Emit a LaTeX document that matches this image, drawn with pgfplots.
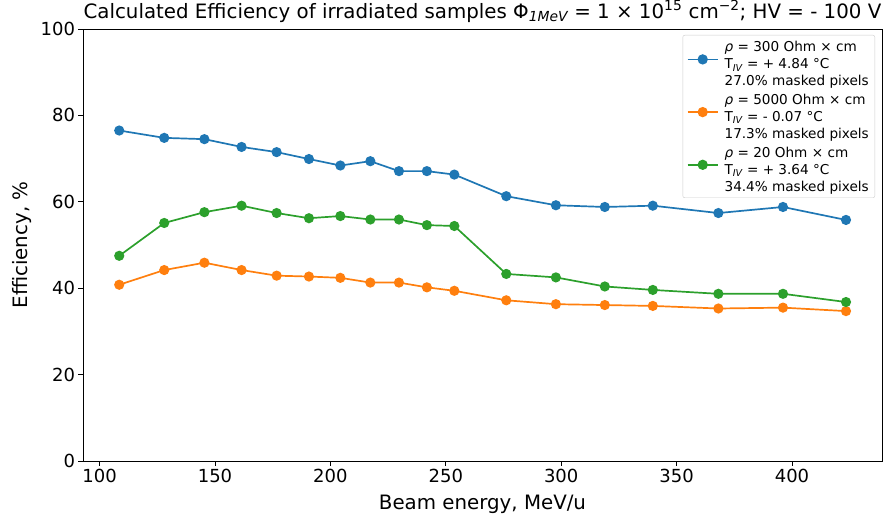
\documentclass[border=0pt]{standalone}
\usepackage{pgfplots}
\pgfplotsset{compat=1.18}
\usepackage{fontspec}
\setmainfont{DejaVu Sans}
\definecolor{cblue}{HTML}{1F77B4}
\definecolor{corange}{HTML}{FF7F0E}
\definecolor{cgreen}{HTML}{2CA02C}
\newcommand{\ls}{\rule[-4pt]{0pt}{15.5pt}}
\newcommand{\lsg}{\rule[-4pt]{0pt}{17pt}}
\begin{document}
\begin{tikzpicture}
\path[use as bounding box] (-83pt,-56pt) rectangle (804pt,461pt);
\begin{axis}[
  at={(0,0)}, anchor=south west, scale only axis,
  width=799pt, height=432pt,
  xmin=92.8, xmax=439, ymin=0, ymax=100,
  xtick={100,150,...,400}, ytick={0,20,...,100},
  tick align=outside, xtick pos=bottom, ytick pos=left,
  major tick length=4.5pt,
  tick style={black, line width=0.9pt},
  axis line style={line width=0.9pt},
  /pgf/number format/assume math mode=true,
  ticklabel style={font=\fontsize{18}{21}\selectfont},
  xlabel={Beam energy, MeV/u},
  ylabel={Efficiency, \%},
  label style={font=\fontsize{19.8}{22}\selectfont},
  xlabel style={at={(axis description cs:0.5,-0.1134)}, anchor=base},
  ylabel style={at={(axis description cs:-0.0763,0.5)}, anchor=center},
  title={Calculated Efficiency of irradiated samples Φ\textsubscript{\itshape 1MeV} = 1 × 10\textsuperscript{15} cm\textsuperscript{−2}; HV = - 100 V},
  title style={at={(axis description cs:0.5,1.0185)}, anchor=base, yshift=-3.5pt, font=\fontsize{19.8}{22}\selectfont},
  legend style={at={(rel axis cs:1,1)}, anchor=north east, xshift=-7pt, yshift=-6pt,
    draw=black!20, rounded corners=2pt, font=\fontsize{13.6}{15.5}\selectfont,
    row sep=0pt, column sep=4pt, inner xsep=4pt, inner ysep=3pt},
  legend cell align=left,
  legend image code/.code={\draw[mark repeat=2,mark phase=2, line width=1.8pt] plot coordinates {(0pt,4.5pt) (15pt,4.5pt) (30pt,4.5pt)};},
  every axis plot/.append style={line width=1.7pt, mark=*, mark size=4.2pt, mark options={solid}},
]
\addlegendimage{empty legend}
\addlegendentry{\ls{\itshape ρ} = 300 Ohm × cm}
\addplot[cblue, mark options={fill=cblue, draw=cblue}] coordinates {
(108.5,76.5) (128,74.8) (145.4,74.5) (161.5,72.7) (176.7,71.5) (190.7,69.9)
(204.3,68.4) (217.3,69.4) (229.7,67.1) (241.8,67.1) (253.7,66.3) (276.2,61.3)
(297.7,59.2) (318.9,58.8) (339.7,59.1) (368.1,57.4) (396.1,58.8) (423.4,55.8)};
\addlegendentry{\ls T\textsubscript{\itshape IV} = + 4.84 °C}
\addlegendimage{empty legend}
\addlegendentry{\ls 27.0\% masked pixels}
\addlegendimage{empty legend}
\addlegendentry{\lsg{\itshape ρ} = 5000 Ohm × cm}
\addplot[corange, mark options={fill=corange, draw=corange}] coordinates {
(108.5,40.8) (128,44.2) (145.4,45.9) (161.5,44.2) (176.7,42.9) (190.7,42.7)
(204.3,42.4) (217.3,41.3) (229.7,41.3) (241.8,40.2) (253.7,39.4) (276.2,37.2)
(297.7,36.3) (318.9,36.1) (339.7,35.9) (368.1,35.3) (396.1,35.5) (423.4,34.7)};
\addlegendentry{\ls T\textsubscript{\itshape IV} = - 0.07 °C}
\addlegendimage{empty legend}
\addlegendentry{\ls 17.3\% masked pixels}
\addlegendimage{empty legend}
\addlegendentry{\lsg{\itshape ρ} = 20 Ohm × cm}
\addplot[cgreen, mark options={fill=cgreen, draw=cgreen}] coordinates {
(108.5,47.5) (128,55.1) (145.4,57.6) (161.5,59.1) (176.7,57.4) (190.7,56.2)
(204.3,56.7) (217.3,55.9) (229.7,55.9) (241.8,54.6) (253.7,54.4) (276.2,43.3)
(297.7,42.5) (318.9,40.4) (339.7,39.6) (368.1,38.7) (396.1,38.7) (423.4,36.8)};
\addlegendentry{\ls T\textsubscript{\itshape IV} = + 3.64 °C}
\addlegendimage{empty legend}
\addlegendentry{\ls 34.4\% masked pixels}
\end{axis}
\end{tikzpicture}
\end{document}
